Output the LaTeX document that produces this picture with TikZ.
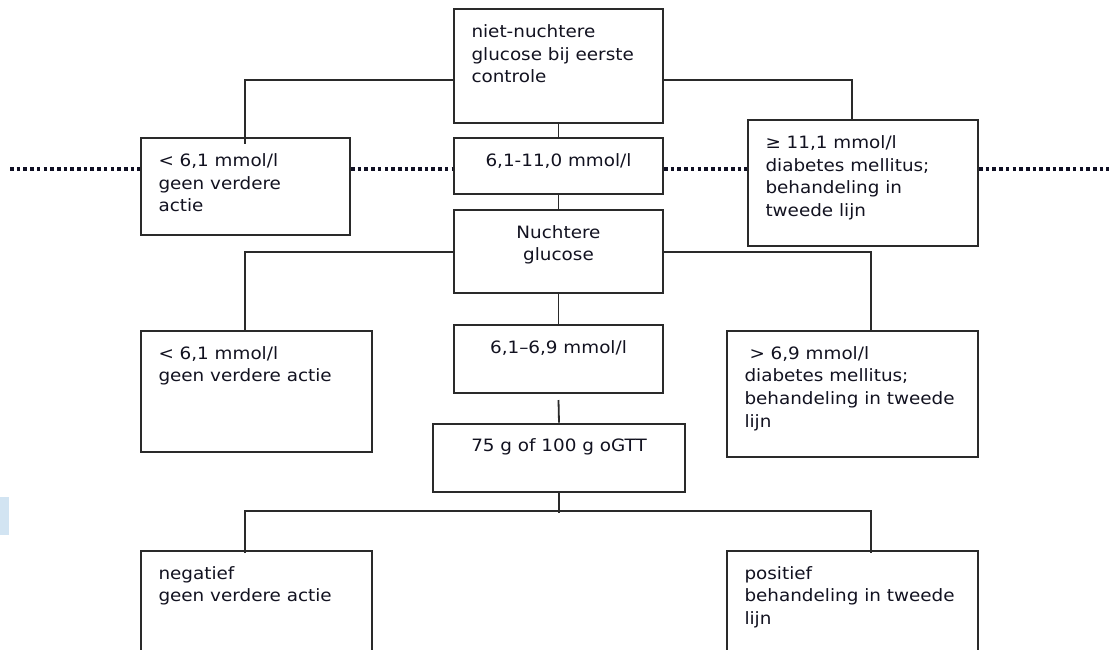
\documentclass[tikz,border=0pt]{standalone}
\usepackage{fontspec}
\setmainfont{DejaVu Sans}[FakeStretch=1.08]
\usetikzlibrary{calc}
\definecolor{boxline}{HTML}{2A2A2A}
\definecolor{txt}{HTML}{121220}
\definecolor{dots}{HTML}{101024}
\definecolor{logoblue}{RGB}{210,228,242}
\newcommand{\bxl}[3]{\parbox[c][#2][t]{#1}{\raggedright\rule{0pt}{16pt}#3}}
\newcommand{\bxc}[3]{\parbox[c][#2][t]{#1}{\centering\rule{0pt}{16pt}#3}}
\begin{document}
\begin{tikzpicture}[x=1pt,y=-1pt,
  pbox/.style={draw=boxline, line width=2pt, inner xsep=17.5pt, inner ysep=12pt,
    anchor=north west, text=txt, font=\fontsize{17pt}{22.7pt}\selectfont},
  conn/.style={draw=boxline, line width=1.8pt},
  dotline/.style={draw=dots, line width=4pt, dash pattern=on 3.6pt off 3.1pt}]
\useasboundingbox (0,0) rectangle (1109,649);
\clip (0,0) rectangle (1109,649);
\fill[white] (0,0) rectangle (1109,649);
\fill[logoblue] (0,497) rectangle (9.3,535);

\node[pbox] (top)  at (453,8.3)   {\bxl{174pt}{90pt}{niet-nuchtere\\glucose bij eerste\\controle}};
\node[pbox] (L1)   at (140,137.3) {\bxl{174pt}{73pt}{< 6,1 mmol/l\\geen verdere\\actie}};
\node[pbox] (mid1) at (453,137.3) {\bxc{174pt}{32pt}{6,1-11,0 mmol/l}};
\node[pbox] (R1)   at (747,119.3) {\bxl{195pt}{102pt}{≥ 11,1 mmol/l\\diabetes mellitus;\\behandeling in\\tweede lijn}};
\node[pbox] (nuch) at (453,209)   {\bxc{174pt}{59.3pt}{Nuchtere\\glucose}};
\node[pbox] (L2)   at (140,330)   {\bxl{196pt}{97pt}{< 6,1 mmol/l\\geen verdere actie}};
\node[pbox] (mid2) at (453,324)   {\bxc{174pt}{44pt}{6,1–6,9 mmol/l}};
\node[pbox] (R2)   at (726,330)   {\bxl{216pt}{102pt}{\hspace*{5pt}> 6,9 mmol/l\\diabetes mellitus;\\behandeling in tweede\\lijn}};
\node[pbox] (oGTT) at (432,422.7) {\bxc{217pt}{44.3pt}{75 g of 100 g oGTT}};
\node[pbox] (L3)   at (140,550)   {\bxl{196pt}{106pt}{negatief\\geen verdere actie}};
\node[pbox] (R3)   at (726,550)   {\bxl{216pt}{106pt}{positief\\behandeling in tweede\\lijn}};

\coordinate (yA) at (0,80);
\coordinate (yB) at (0,251.7);
\coordinate (yC) at (0,510.7);
\coordinate (xL) at (245,0);
\coordinate (xR) at (871,0);
\coordinate (xR1) at (852,0);

\draw[conn] (top.west |- yA) -| ([yshift=-7pt]xL |- L1.north);
\draw[conn] (top.east |- yA) -| (xR1 |- R1.north);
\draw[conn] (top.south) -- (mid1.north);
\draw[conn] (mid1.south) -- (nuch.north);
\draw[conn] (nuch.west |- yB) -| (xL |- L2.north);
\draw[conn] (nuch.east |- yB) -| (xR |- R2.north);
\draw[conn] (nuch.south) -- (mid2.north);
\draw[conn] ([yshift=-6pt]mid2.south) -- (oGTT.north);
\draw[conn] (oGTT.south) -- ([yshift=-2.5pt]oGTT.south |- yC);
\draw[conn] ([yshift=-3pt]xL |- L3.north) |- (xR |- yC) -- ([yshift=-3pt]xR |- R3.north);

\coordinate (dL) at (10,169.3);
\coordinate (dR) at (1109,169.3);
\draw[dotline] (dL) -- (L1.west |- dL);
\draw[dotline] (L1.east |- dL) -- (mid1.west |- dL);
\draw[dotline] (mid1.east |- dL) -- (R1.west |- dL);
\draw[dotline] (R1.east |- dL) -- (dR);
\end{tikzpicture}
\end{document}
